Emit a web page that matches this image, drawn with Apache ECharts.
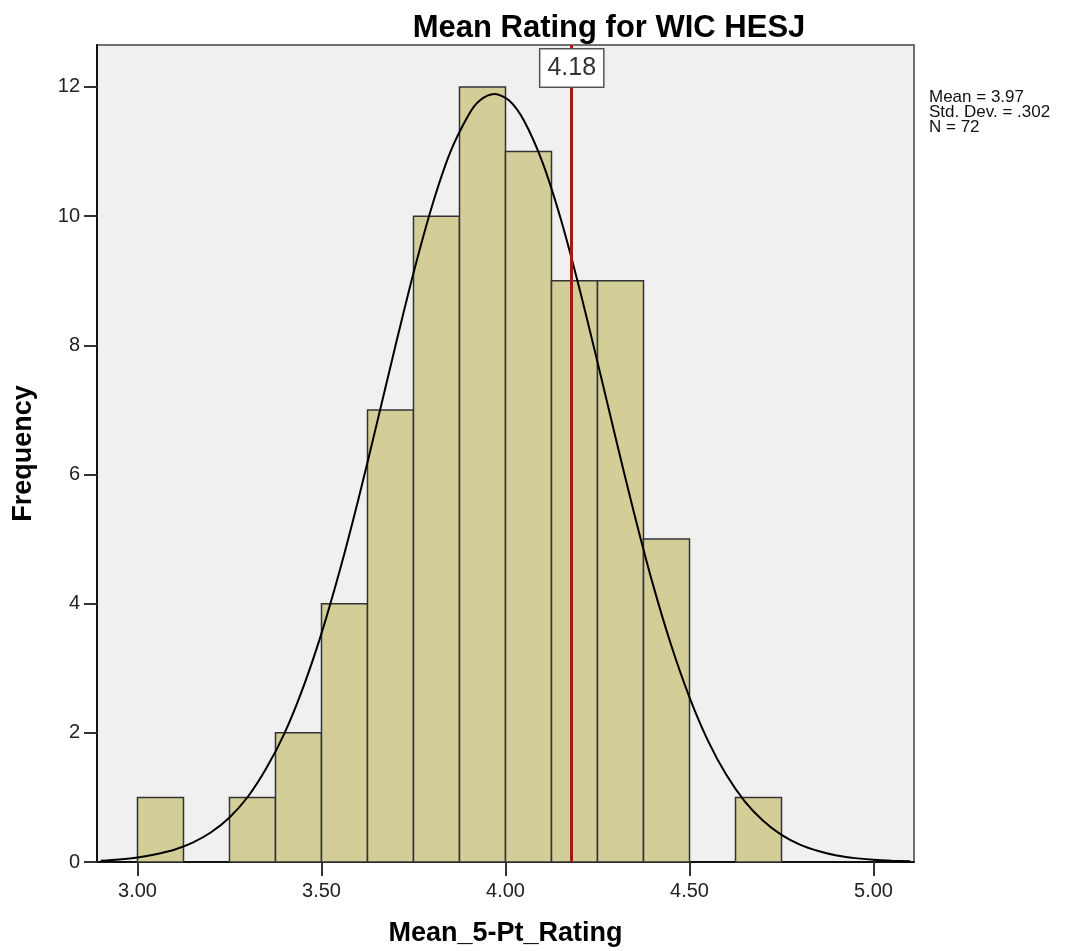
<!DOCTYPE html>
<html lang="en">
<head>
  <meta charset="UTF-8">
  <script src="https://cdn.jsdelivr.net/npm/echarts/dist/echarts.min.js"></script>
  <style>
    body { margin: 0; background: #ffffff; }
    #main { width: 1085px; height: 951px; }
  </style>
</head>
<body>
  <div id="main"></div>
  <script>
    // histogram bins (start of each bin, width 0.125) and counts
    var binStarts = [3.000, 3.125, 3.250, 3.375, 3.500, 3.625, 3.750, 3.875, 4.000, 4.125, 4.250, 4.375, 4.500, 4.625];
    var binCounts = [1, 0, 1, 2, 4, 7, 10, 12, 11, 9, 9, 5, 0, 1];
    var binWidth = 0.125;

    // fitted normal curve
    var curveX = [2.90, 2.95, 3.00, 3.05, 3.10, 3.15, 3.20, 3.25, 3.30, 3.35, 3.40, 3.45, 3.50, 3.55, 3.60,
                  3.65, 3.70, 3.75, 3.80, 3.85, 3.90, 3.93, 3.97, 4.01, 4.05, 4.10, 4.15, 4.20, 4.25, 4.30, 4.35,
                  4.40, 4.45, 4.50, 4.55, 4.60, 4.65, 4.70, 4.75, 4.80, 4.85, 4.90, 4.95, 5.00, 5.05, 5.10];
    var curveY = [0.02, 0.04, 0.07, 0.12, 0.19, 0.30, 0.46, 0.69, 1.01, 1.45, 2.00, 2.70, 3.54, 4.52, 5.61,
                  6.78, 7.97, 9.12, 10.15, 10.99, 11.57, 11.79, 11.89, 11.79, 11.48, 10.84, 9.96, 8.90, 7.74, 6.55, 5.39,
                  4.31, 3.36, 2.55, 1.88, 1.35, 0.94, 0.64, 0.42, 0.27, 0.17, 0.10, 0.06, 0.035, 0.02, 0.011];

    var xTicks = [3.00, 3.50, 4.00, 4.50, 5.00];
    var yTicks = [0, 2, 4, 6, 8, 10, 12];
    var markerValue = 4.18;
    var statLines = ['Mean = 3.97', 'Std. Dev. = .302', 'N = 72'];

    var X_MIN = 2.89, X_MAX = 5.11, Y_MAX = 12.65;
    var FONT = 'Arial, "Liberation Sans", sans-serif';

    var bars = [];
    for (var i = 0; i < binStarts.length; i++) {
      if (binCounts[i] > 0) bars.push([binStarts[i], binStarts[i] + binWidth, binCounts[i]]);
    }
    var curve = curveX.map(function (x, i) { return [x, curveY[i]]; });

    var chart = echarts.init(document.getElementById('main'));

    chart.setOption({
      animation: false,
      title: {
        text: 'Mean Rating for WIC HESJ',
        left: 604, top: 8, textAlign: 'center',
        textStyle: { fontFamily: FONT, fontSize: 31, fontWeight: 'bold', color: '#000' }
      },
      grid: {
        left: 97, right: 171, top: 45, bottom: 89,
        containLabel: false, outerBoundsMode: 'none',
        show: true, backgroundColor: '#f0f0f0', borderColor: '#444', borderWidth: 1.5
      },
      xAxis: {
        type: 'value', min: X_MIN, max: X_MAX,
        name: 'Mean_5-Pt_Rating', nameLocation: 'middle', nameGap: 58,
        nameTextStyle: { fontFamily: FONT, fontSize: 27, fontWeight: 'bold', color: '#000' },
        axisLine: { lineStyle: { color: '#111', width: 2 } },
        axisTick: { show: true, length: 14, customValues: xTicks, lineStyle: { color: '#333', width: 2 } },
        axisLabel: {
          customValues: xTicks, margin: 19,
          fontFamily: FONT, fontSize: 20, color: '#222',
          formatter: function (v) { return v.toFixed(2); }
        },
        splitLine: { show: false }
      },
      yAxis: {
        type: 'value', min: 0, max: Y_MAX,
        name: 'Frequency', nameLocation: 'middle', nameGap: 60, nameRotate: 90,
        nameTextStyle: { fontFamily: FONT, fontSize: 27, fontWeight: 'bold', color: '#000' },
        axisLine: { show: true, lineStyle: { color: '#111', width: 2 } },
        axisTick: { show: true, length: 13, customValues: yTicks, lineStyle: { color: '#333', width: 2 } },
        axisLabel: { customValues: yTicks, margin: 17, fontFamily: FONT, fontSize: 20, color: '#222' },
        splitLine: { show: false }
      },
      graphic: [{
        type: 'text', left: 929, top: 89,
        style: {
          text: statLines.join('\n'), fontFamily: FONT, fontSize: 17, lineHeight: 15, fill: '#111'
        }
      }],
      series: [{
        type: 'custom',
        data: bars,
        renderItem: function (params, api) {
          var p0 = api.coord([api.value(0), api.value(2)]);
          var p1 = api.coord([api.value(1), 0]);
          return {
            type: 'rect',
            shape: { x: p0[0], y: p0[1], width: p1[0] - p0[0], height: p1[1] - p0[1] },
            style: { fill: '#d3ce97', stroke: '#333', lineWidth: 1.5 }
          };
        },
        z: 2
      }, {
        type: 'line',
        data: curve,
        smooth: 0.3,
        showSymbol: false,
        lineStyle: { color: '#000', width: 2 },
        z: 3,
        markLine: {
          silent: true, symbol: 'none',
          lineStyle: { color: '#a31818', width: 3, type: 'solid' },
          label: { show: false },
          data: [{ xAxis: markerValue }]
        },
        markPoint: {
          silent: true,
          symbol: 'rect', symbolSize: 1,
          itemStyle: { color: 'rgba(0,0,0,0)' },
          label: {
            show: true, position: 'inside', offset: [0, 23],
            formatter: markerValue.toFixed(2),
            fontFamily: FONT, fontSize: 25, color: '#333',
            backgroundColor: '#fff', borderColor: '#555', borderWidth: 1.5,
            padding: [7, 7, 5, 7]
          },
          data: [{ coord: [markerValue, Y_MAX] }]
        }
      }]
    });
  </script>
</body>
</html>
